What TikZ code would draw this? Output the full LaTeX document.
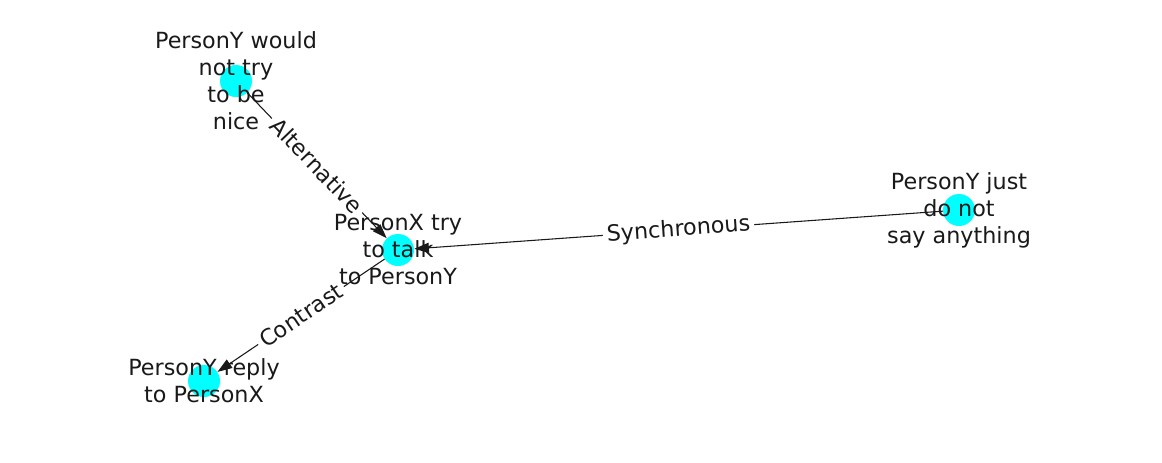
\documentclass[tikz,border=0pt]{standalone}
\usepackage{fontspec}
\setmainfont{DejaVu Sans}
\usetikzlibrary{arrows.meta}
\definecolor{nodecyan}{RGB}{0,255,255}
\begin{document}
\begin{tikzpicture}[x=0.75pt,y=-0.75pt,
  dot/.style={circle,fill=nodecyan,draw=none,minimum size=24pt,inner sep=0pt},
  ntext/.style={align=center,inner sep=0pt,text=black!90,font=\fontsize{16.7}{20.25}\selectfont},
  edge/.style={draw=black!90,line width=0.8pt,-{Triangle[length=11pt,width=7.5pt]}},
  elabel/.style={fill=white,rounded corners=3pt,inner sep=3pt,text=black!90,font=\fontsize{16.7}{20.25}\selectfont}]
\useasboundingbox (0,0) rectangle (1162,462);
\node[dot] (a) at (236,81) {};
\node[dot] (b) at (398,250) {};
\node[dot] (c) at (959,210) {};
\node[dot] (d) at (204,381) {};
\draw[edge] (a) -- (b) node[midway,sloped,elabel] {Alternative};
\draw[edge] (c) -- (b) node[midway,sloped,elabel] {Synchronous};
\draw[edge] (b) -- (d) node[midway,sloped,elabel] {Contrast};
\node[ntext] (ta) at (236,81) {PersonY would\\not try\\to be\\nice};
\node[ntext] (tb) at (398,250) {PersonX try\\to talk\\to PersonY};
\node[ntext] (tc) at (959,210) {PersonY just\\do not\\say anything};
\node[ntext] (td) at (204,381) {PersonY reply\\to PersonX};
\end{tikzpicture}
\end{document}
